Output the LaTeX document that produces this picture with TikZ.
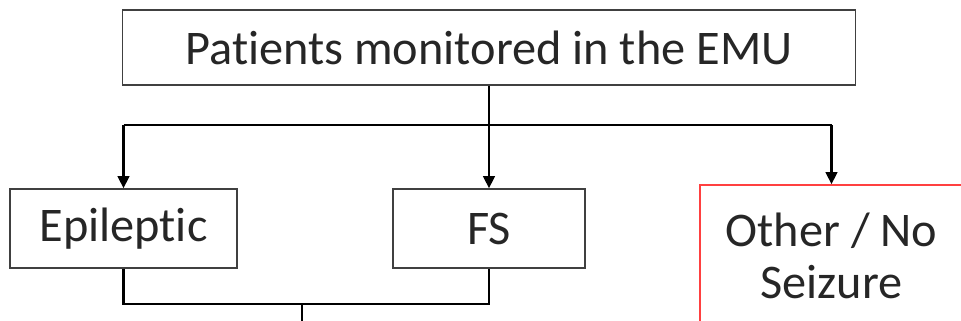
\documentclass[tikz,border=0pt]{standalone}
\usepackage{fontspec}
\setmainfont[Ligatures=NoCommon]{Carlito}
\usetikzlibrary{arrows.meta,positioning}

\begin{document}
\begin{tikzpicture}[x=0.02cm, y=-0.02cm,
    box/.style={draw=black!75, line width=0.7pt, align=center, inner sep=0pt,
        text=black!85, font=\fontsize{27.5pt}{30pt}\selectfont},
    link/.style={line width=1.7pt, black},
    arrow/.style={link, -{Triangle[length=7pt, width=6.5pt]}},
    ]
    \useasboundingbox (0,0) rectangle (961,321);
    \clip (0,0) rectangle (961,321);

    \node [box, minimum width=733*0.02cm, minimum height=75*0.02cm] (emu) at (489,47.5) {Patients monitored in the EMU};
    \node [box, minimum width=227*0.02cm, minimum height=79*0.02cm] (epi) at (123.5,228.5) {Epileptic};
    \node [box, minimum width=192*0.02cm, minimum height=79*0.02cm] (fs) at (489,228.5) {FS};
    \node [box, draw=red!75!white, minimum width=263*0.02cm, minimum height=145*0.02cm] (other) at (831.5,257.5) {};
    \node [box, draw=none, font=\fontsize{27.5pt}{30pt}\selectfont] (othertext) at (831.5,256) {Other / No\\Seizure};

    \coordinate (hub) at (489,125);
    \coordinate (join) at (302,304);
    \coordinate (out) at (302,340);

    \draw [link] (emu) -- (hub);
    \draw [link] (hub -| epi) -- (hub -| other);
    \draw [arrow] (hub -| epi) -- (epi);
    \draw [arrow] (hub) -- (fs);
    \draw [arrow] (hub -| other) -- (other);
    \draw [link] (epi.south) -- (epi.south |- join) -- (fs.south |- join) -- (fs.south);
    \draw [link] (join) -- (out);
\end{tikzpicture}
\end{document}
